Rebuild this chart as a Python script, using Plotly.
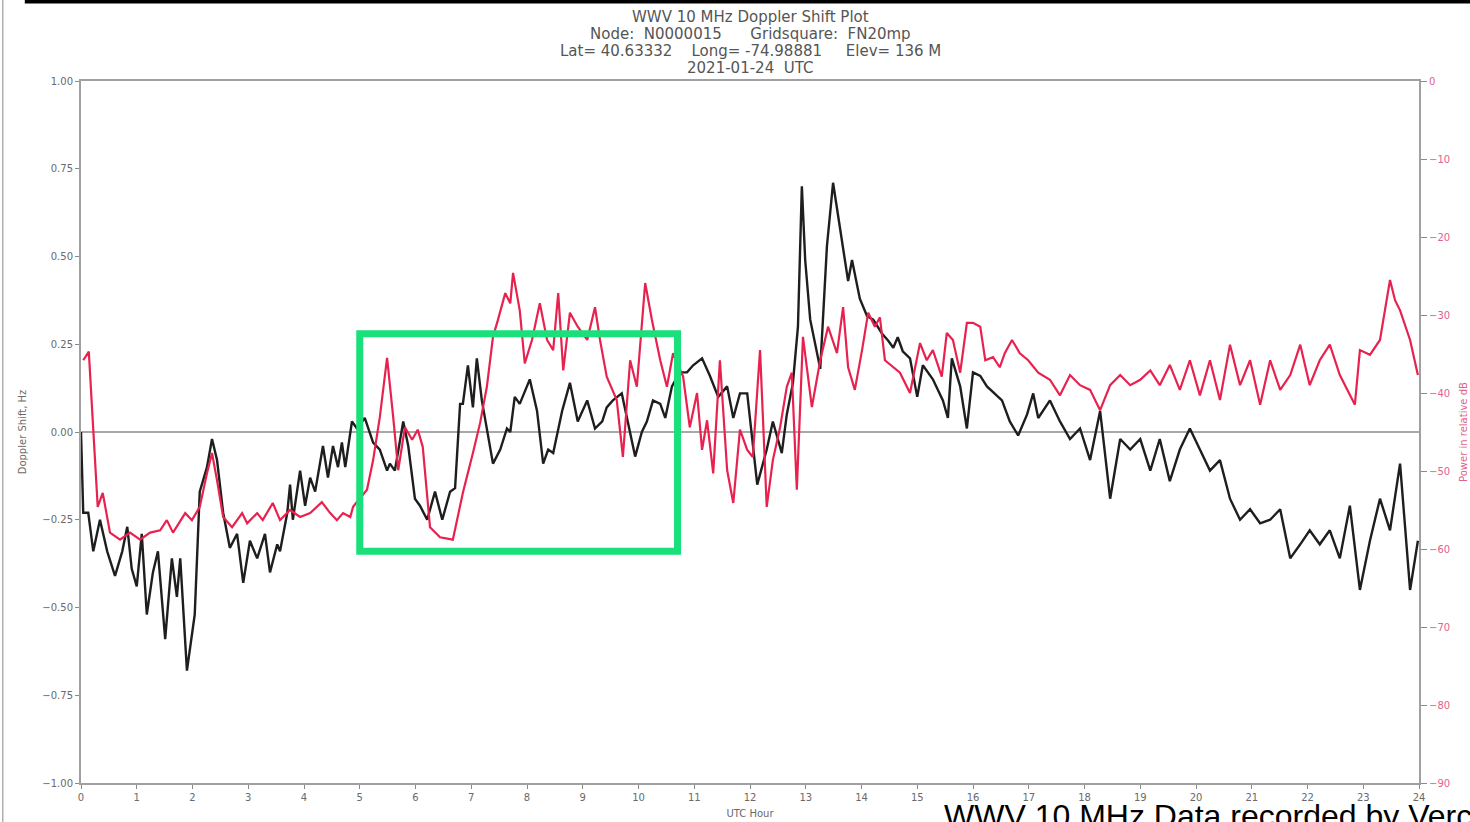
import plotly.graph_objects as go

# ---------------- data ----------------
doppler_hours = [0.00, 0.04, 0.13, 0.22, 0.34, 0.47, 0.61, 0.74, 0.83, 0.91, 1.00, 1.09, 1.18, 1.29, 1.38,
                 1.51, 1.63, 1.72, 1.78, 1.90, 2.04, 2.13, 2.26, 2.35, 2.44, 2.55, 2.67, 2.80, 2.91, 3.03,
                 3.16, 3.30, 3.39, 3.52, 3.57, 3.70, 3.75, 3.80, 3.93, 4.02, 4.11, 4.20, 4.34, 4.43, 4.52,
                 4.61, 4.68, 4.74, 4.86, 4.95, 5.09, 5.24, 5.36, 5.49, 5.54, 5.63, 5.78, 5.87, 5.99, 6.08,
                 6.21, 6.35, 6.48, 6.62, 6.71, 6.80, 6.85, 6.94, 7.03, 7.10, 7.19, 7.39, 7.52, 7.64, 7.70,
                 7.78, 7.87, 8.05, 8.18, 8.29, 8.38, 8.47, 8.63, 8.77, 8.91, 9.08, 9.22, 9.35, 9.43, 9.54,
                 9.70, 9.81, 9.94, 10.06, 10.15, 10.26, 10.39, 10.48, 10.60, 10.74, 10.87, 10.98, 11.14, 11.28, 11.43,
                 11.59, 11.70, 11.82, 11.95, 12.13, 12.30, 12.41, 12.57, 12.66, 12.77, 12.86, 12.93, 12.99, 13.08, 13.26,
                 13.38, 13.49, 13.61, 13.76, 13.83, 13.97, 14.10, 14.21, 14.37, 14.48, 14.57, 14.65, 14.74, 14.87, 15.00,
                 15.10, 15.28, 15.46, 15.55, 15.62, 15.77, 15.89, 16.00, 16.13, 16.25, 16.39, 16.52, 16.66, 16.81, 16.97,
                 17.08, 17.17, 17.38, 17.56, 17.74, 17.92, 18.10, 18.28, 18.46, 18.64, 18.82, 19.00, 19.18, 19.35, 19.53,
                 19.71, 19.89, 20.07, 20.25, 20.43, 20.61, 20.79, 20.97, 21.15, 21.33, 21.51, 21.69, 21.87, 22.04, 22.22,
                 22.40, 22.58, 22.76, 22.94, 23.12, 23.30, 23.48, 23.66, 23.84, 23.98]
doppler_hz = [0.00, -0.23, -0.23, -0.34, -0.25, -0.34, -0.41, -0.34, -0.27, -0.39, -0.44, -0.29, -0.52, -0.40, -0.34,
              -0.59, -0.36, -0.47, -0.36, -0.68, -0.52, -0.17, -0.10, -0.02, -0.08, -0.23, -0.33, -0.29, -0.43, -0.31,
              -0.36, -0.29, -0.40, -0.32, -0.34, -0.23, -0.15, -0.25, -0.11, -0.21, -0.13, -0.17, -0.04, -0.13, -0.04,
              -0.10, -0.03, -0.10, 0.03, 0.01, 0.04, -0.03, -0.05, -0.11, -0.09, -0.11, 0.03, -0.04, -0.19, -0.21,
              -0.25, -0.17, -0.25, -0.17, -0.16, 0.08, 0.08, 0.19, 0.07, 0.21, 0.09, -0.09, -0.05, 0.01, 0.00,
              0.10, 0.08, 0.15, 0.06, -0.09, -0.05, -0.06, 0.06, 0.14, 0.03, 0.09, 0.01, 0.03, 0.07, 0.09,
              0.11, 0.03, -0.07, 0.00, 0.03, 0.09, 0.08, 0.04, 0.13, 0.17, 0.17, 0.19, 0.21, 0.16, 0.10,
              0.13, 0.04, 0.11, 0.11, -0.15, -0.05, 0.03, -0.06, 0.05, 0.14, 0.30, 0.70, 0.49, 0.32, 0.18,
              0.53, 0.71, 0.58, 0.43, 0.49, 0.38, 0.33, 0.32, 0.28, 0.26, 0.24, 0.27, 0.23, 0.21, 0.10,
              0.19, 0.15, 0.09, 0.04, 0.21, 0.13, 0.01, 0.17, 0.16, 0.13, 0.11, 0.09, 0.03, -0.01, 0.05,
              0.11, 0.04, 0.09, 0.03, -0.02, 0.01, -0.08, 0.06, -0.19, -0.02, -0.05, -0.02, -0.11, -0.02, -0.14,
              -0.05, 0.01, -0.05, -0.11, -0.08, -0.19, -0.25, -0.22, -0.26, -0.25, -0.22, -0.36, -0.32, -0.28, -0.32,
              -0.28, -0.36, -0.21, -0.45, -0.31, -0.19, -0.28, -0.09, -0.45, -0.31]

power_hours = [0.04, 0.14, 0.22, 0.30, 0.39, 0.52, 0.70, 0.88, 1.06, 1.24, 1.42, 1.54, 1.65, 1.87, 1.99,
               2.13, 2.26, 2.35, 2.44, 2.55, 2.71, 2.89, 2.98, 3.16, 3.26, 3.44, 3.57, 3.75, 3.93, 4.11,
               4.32, 4.47, 4.59, 4.70, 4.83, 4.88, 5.13, 5.24, 5.36, 5.49, 5.60, 5.69, 5.81, 5.94, 6.04,
               6.13, 6.26, 6.44, 6.67, 6.85, 7.03, 7.16, 7.28, 7.39, 7.48, 7.61, 7.70, 7.75, 7.87, 7.96,
               8.09, 8.23, 8.36, 8.47, 8.56, 8.65, 8.77, 8.91, 9.08, 9.22, 9.31, 9.43, 9.61, 9.72, 9.85,
               9.97, 10.12, 10.24, 10.39, 10.51, 10.62, 10.80, 10.92, 11.05, 11.14, 11.23, 11.34, 11.46, 11.59, 11.70,
               11.82, 11.95, 12.05, 12.18, 12.30, 12.41, 12.54, 12.66, 12.75, 12.84, 12.95, 13.11, 13.26, 13.40, 13.56,
               13.67, 13.76, 13.88, 14.01, 14.12, 14.24, 14.33, 14.42, 14.57, 14.69, 14.87, 15.05, 15.17, 15.28, 15.44,
               15.53, 15.64, 15.77, 15.89, 16.00, 16.13, 16.22, 16.36, 16.48, 16.57, 16.70, 16.84, 16.99, 17.17, 17.38,
               17.56, 17.74, 17.92, 18.10, 18.28, 18.46, 18.64, 18.82, 19.00, 19.18, 19.35, 19.53, 19.71, 19.89, 20.07,
               20.25, 20.43, 20.61, 20.79, 20.97, 21.15, 21.33, 21.51, 21.69, 21.87, 22.04, 22.22, 22.40, 22.58, 22.76,
               22.85, 22.94, 23.12, 23.30, 23.48, 23.57, 23.66, 23.84, 23.98]
power_db = [-35.8, -34.7, -44.7, -54.6, -52.8, -57.9, -58.8, -57.9, -58.8, -57.9, -57.6, -56.3, -57.9, -55.4, -56.3,
            -54.6, -50.3, -47.7, -51.2, -55.9, -57.2, -55.4, -56.7, -55.4, -56.3, -54.1, -56.3, -55.0, -55.9, -55.4,
            -54.0, -55.4, -56.3, -55.4, -55.9, -54.6, -52.4, -48.6, -43.1, -35.5, -43.1, -49.9, -44.4, -46.0, -44.7,
            -46.9, -57.2, -58.5, -58.8, -52.8, -47.7, -43.8, -39.2, -32.8, -30.6, -27.2, -28.5, -24.6, -29.4, -36.2,
            -33.2, -28.5, -33.2, -34.5, -27.2, -37.1, -29.7, -31.5, -33.2, -29.0, -33.2, -37.9, -40.9, -48.2, -35.8,
            -39.2, -25.9, -30.6, -35.8, -39.2, -34.9, -37.9, -44.4, -40.0, -47.3, -43.5, -50.3, -35.8, -49.9, -54.1,
            -44.7, -47.3, -48.2, -34.5, -54.6, -48.6, -44.4, -39.2, -37.4, -52.4, -32.8, -41.8, -35.8, -31.5, -34.9,
            -29.0, -36.7, -39.6, -34.5, -29.7, -31.5, -30.3, -35.8, -36.7, -37.4, -40.0, -33.6, -35.8, -34.5, -37.9,
            -32.3, -33.2, -37.4, -31.0, -31.0, -31.5, -35.8, -35.4, -36.7, -34.9, -33.2, -34.9, -35.8, -37.4, -38.3,
            -40.3, -37.7, -39.0, -39.6, -42.2, -39.0, -37.7, -39.0, -38.3, -37.1, -39.0, -36.4, -39.6, -35.8, -40.3,
            -35.8, -40.9, -33.8, -39.0, -35.8, -41.5, -35.8, -39.6, -37.7, -33.8, -39.0, -35.8, -33.8, -37.7, -40.3,
            -41.5, -34.5, -35.1, -33.2, -25.5, -28.1, -29.4, -33.2, -37.7]

hour_ticks = list(range(0, 25))
doppler_ticks = [-1.00, -0.75, -0.50, -0.25, 0.00, 0.25, 0.50, 0.75, 1.00]
power_ticks = [-90, -80, -70, -60, -50, -40, -30, -20, -10, 0]

title_lines = ["WWV 10 MHz Doppler Shift Plot",
               "Node:  N0000015      Gridsquare:  FN20mp",
               "Lat= 40.63332    Long= -74.98881     Elev= 136 M",
               "2021-01-24  UTC"]
highlight_box = dict(x0=5.0, x1=10.7, y0=-0.34, y1=0.28)   # green box (hours, Hz)
footer_text = "WWV 10 MHz Data recorded by Verc"

# ---------------- figure ----------------
GRAY = "#8a8a8a"
PINK = "#e0628c"
fig = go.Figure()

fig.add_trace(go.Scatter(x=doppler_hours, y=doppler_hz, mode="lines",
                         line=dict(color="#1e1e1e", width=2.4), yaxis="y", showlegend=False))
fig.add_trace(go.Scatter(x=power_hours, y=power_db, mode="lines",
                         line=dict(color="#e8224f", width=2.2), yaxis="y2", showlegend=False))

tick_font = dict(family="DejaVu Sans", size=10, color="#6a6a6a")

fig.update_layout(
    width=1470, height=822,
    margin=dict(l=81, r=51, t=81, b=39, autoexpand=False),
    paper_bgcolor="white", plot_bgcolor="white",
    font=dict(family="DejaVu Sans"),
    xaxis=dict(range=[0, 24], tickmode="array", tickvals=hour_ticks,
               ticktext=[str(h) for h in hour_ticks], automargin=False,
               showgrid=False, zeroline=False, showline=True, mirror=True,
               linecolor="#a0a0a0", linewidth=2, ticks="outside", ticklen=4,
               tickcolor=GRAY, tickfont=tick_font,
               title=dict(text="UTC Hour", font=dict(size=10, color="#6a6a6a"), standoff=8)),
    yaxis=dict(range=[-1, 1], tickmode="array", tickvals=doppler_ticks, tickformat=".2f",
               automargin=False,
               showgrid=False, zeroline=True, zerolinecolor="#a8a8a8", zerolinewidth=2,
               showline=True, linecolor="#a0a0a0", linewidth=2, ticks="outside", ticklen=4,
               tickcolor=GRAY, tickfont=tick_font,
               title=dict(text="Doppler Shift, Hz", font=dict(size=10, color="#6a6a6a"), standoff=14)),
    yaxis2=dict(range=[-90, 0], overlaying="y", side="right", tickmode="array",
                tickvals=power_ticks, showgrid=False, zeroline=False, automargin=False,
                showline=True, linecolor="#a0a0a0", linewidth=2, ticks="outside", ticklen=6,
                tickcolor=GRAY, tickfont=dict(family="DejaVu Sans", size=10, color=PINK),
                title=dict(text="Power in relative dB", font=dict(size=10, color=PINK), standoff=11)),
)

# title block, one annotation per line (tight line spacing as in the reference)
title_y = [1.0912, 1.0670, 1.0427, 1.0185]
for line, yy in zip(title_lines, title_y):
    fig.add_annotation(text=line, xref="paper", yref="paper", x=0.5, y=yy,
                       xanchor="center", yanchor="middle", showarrow=False,
                       font=dict(family="DejaVu Sans", size=15, color="#555555"))

# green highlight box
fig.add_shape(type="rect", xref="x", yref="y", line=dict(color="#19e07a", width=7),
              fillcolor="rgba(0,0,0,0)", **highlight_box)

# decorations of the page: black top rule, gray left rule
fig.add_shape(type="rect", xref="paper", yref="paper", x0=-0.042, x1=1.04, y0=1.1105, y1=1.12,
              fillcolor="black", line=dict(width=0), layer="above")
fig.add_shape(type="line", xref="paper", yref="paper", x0=-0.0585, x1=-0.0585, y0=-0.06, y1=1.12,
              line=dict(color="#b0b0b0", width=1.5))

# footer caption (cut off at the page edge)
fig.add_annotation(text=footer_text, xref="paper", yref="paper", x=0.6435, y=-0.018,
                   xanchor="left", yanchor="top", showarrow=False,
                   font=dict(family="Liberation Sans", size=32, color="black"))

fig.write_html("out.html", config={"displayModeBar": False},
               post_script="document.body.style.margin='0';document.body.style.overflow='hidden';")
